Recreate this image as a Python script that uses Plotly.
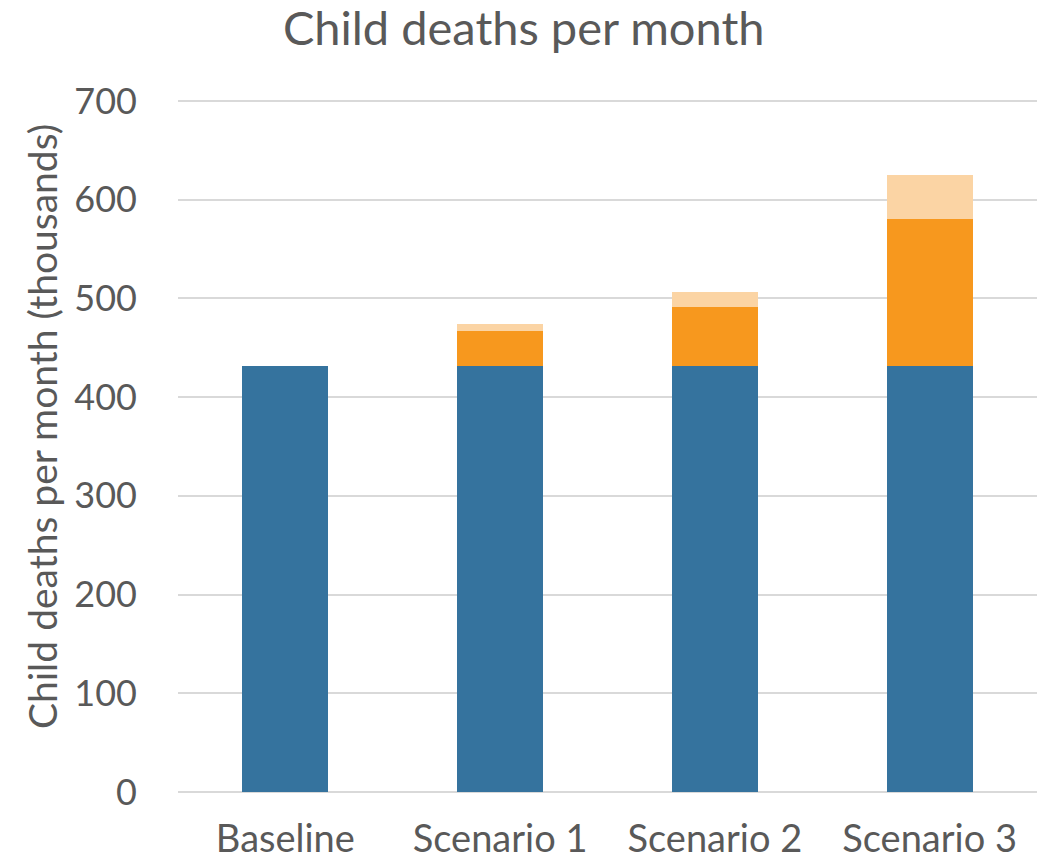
import plotly.graph_objects as go

categories = ["Baseline", "Scenario 1", "Scenario 2", "Scenario 3"]
baseline = [432, 432, 432, 432]
increase_low = [0, 34.5, 59, 148.5]
increase_high = [0, 8, 15.6, 44.5]

font_family = "Lato, 'Open Sans', sans-serif"
gray = "#595959"

fig = go.Figure()
fig.add_trace(go.Bar(x=categories, y=baseline, marker_color="#35739E", marker_line_width=0, name="Baseline"))
fig.add_trace(go.Bar(x=categories, y=increase_low, marker_color="#F7981E", marker_line_width=0, name="Increase"))
fig.add_trace(go.Bar(x=categories, y=increase_high, marker_color="#FBD4A4", marker_line_width=0, name="Upper"))

fig.update_layout(
    barmode="stack",
    bargap=0.6,
    width=1037, height=864,
    margin=dict(l=178, r=0, t=99, b=72),
    plot_bgcolor="white", paper_bgcolor="white",
    showlegend=False,
    font=dict(family=font_family, color=gray, size=34),
    title=dict(text="Child deaths per month", x=0.505, xanchor="center", y=0.967, yanchor="middle",
               font=dict(size=47, color=gray, family=font_family)),
)
fig.add_annotation(text="Child deaths per month (thousands)", textangle=-90,
                   xref="paper", yref="paper", x=-0.158, y=0.527,
                   xanchor="center", yanchor="middle", showarrow=False,
                   font=dict(size=39, color=gray, family=font_family))
fig.update_yaxes(range=[0, 702], tickvals=[0, 100, 200, 300, 400, 500, 600, 700], showgrid=True,
                 gridcolor="#D9D9D9", gridwidth=1.5, automargin=False,
                 zeroline=True, zerolinecolor="#D9D9D9", zerolinewidth=1.5,
                 ticks="", ticklabelstandoff=40,
                 tickfont=dict(size=36, color=gray))
fig.update_xaxes(showline=False, ticks="", automargin=False, tickfont=dict(size=38, color=gray), ticklabelstandoff=21)

fig.write_html("out.html")
